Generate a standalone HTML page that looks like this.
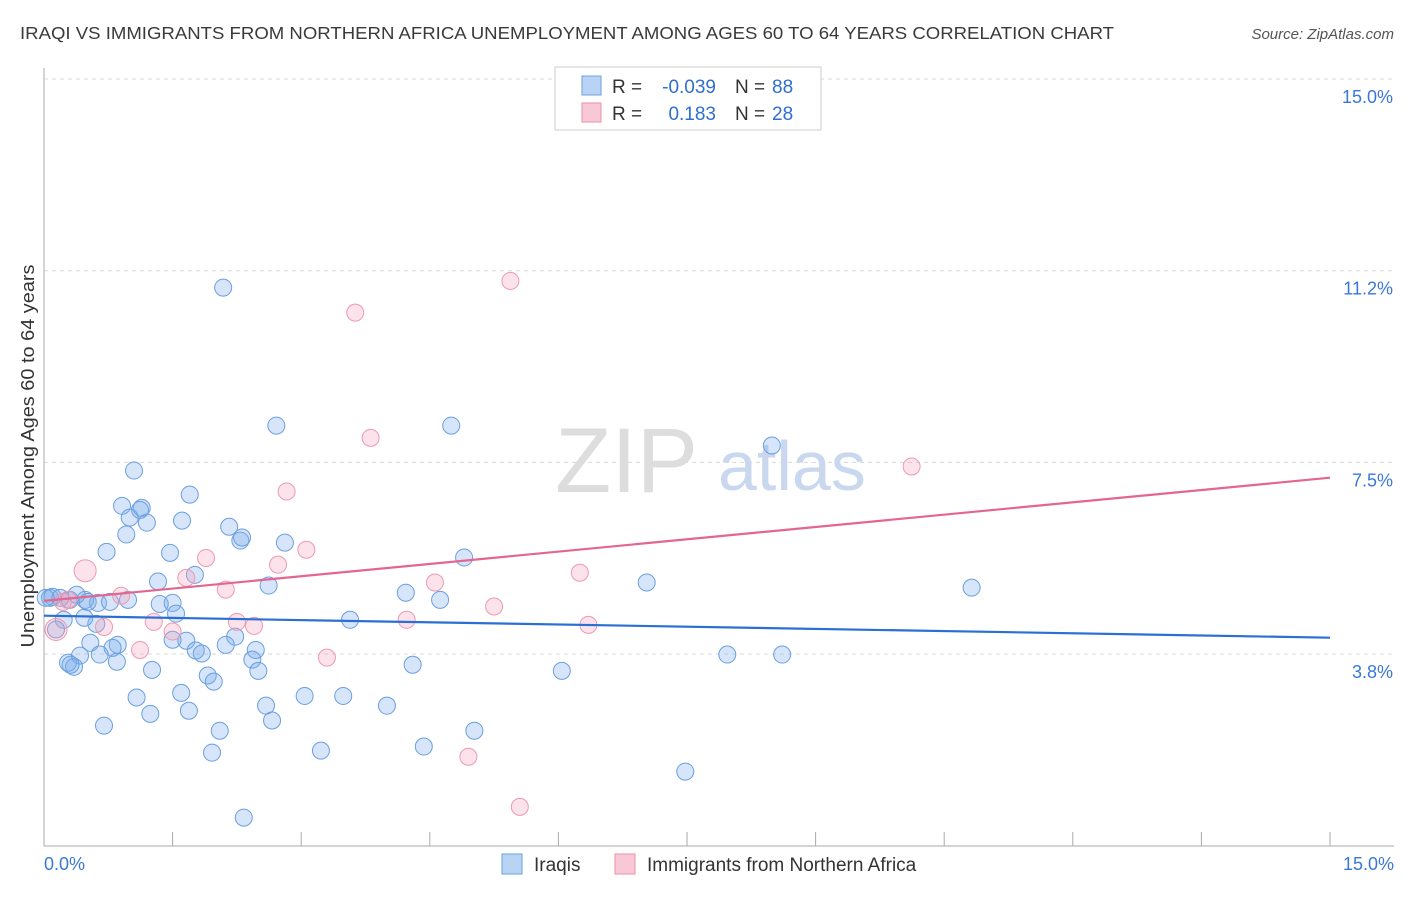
<!DOCTYPE html>
<html><head><meta charset="utf-8"><style>
body{margin:0;background:#fff;font-family:"Liberation Sans",sans-serif;}
svg text{font-family:"Liberation Sans",sans-serif;}
</style></head><body>
<svg id="chart" width="1406" height="892" xmlns="http://www.w3.org/2000/svg">
<text x="20" y="39" font-size="17.5" fill="#3a3a3a" textLength="1094" lengthAdjust="spacingAndGlyphs">IRAQI VS IMMIGRANTS FROM NORTHERN AFRICA UNEMPLOYMENT AMONG AGES 60 TO 64 YEARS CORRELATION CHART</text>
<text x="1394" y="39" font-size="15" fill="#555" text-anchor="end" font-style="italic">Source: ZipAtlas.com</text>
<g id="grid"></g>
<text x="555" y="492" font-size="92" fill="#ddd" font-family="Liberation Serif">ZIP</text>
<text x="718" y="490" font-size="70" fill="#c9d8ee">atlas</text>
<text transform="translate(34,456) rotate(-90)" font-size="18" fill="#333" text-anchor="middle" textLength="383" lengthAdjust="spacingAndGlyphs">Unemployment Among Ages 60 to 64 years</text>
<g id="points"></g>
<g id="lines"></g>
<g>
<rect x="555" y="67" width="266" height="63" fill="#fff" stroke="#ccc"/>
<rect x="582" y="76" width="19" height="19" fill="#b8d3f4" stroke="#6ea0e0"/>
<rect x="582" y="103" width="19" height="19" fill="#f8c8d6" stroke="#e890aa"/>
<text x="612" y="93" font-size="19" fill="#333">R =</text>
<text x="716" y="93" font-size="19" fill="#2f6fd0" text-anchor="end">-0.039</text>
<text x="735" y="93" font-size="19" fill="#333">N =</text>
<text x="772" y="93" font-size="19" fill="#2f6fd0">88</text>
<text x="612" y="120" font-size="19" fill="#333">R =</text>
<text x="716" y="120" font-size="19" fill="#2f6fd0" text-anchor="end">0.183</text>
<text x="735" y="120" font-size="19" fill="#333">N =</text>
<text x="772" y="120" font-size="19" fill="#2f6fd0">28</text>
</g>
<g>
<rect x="502" y="854" width="20" height="20" fill="#b8d3f4" stroke="#6ea0e0"/>
<text x="534" y="871" font-size="19" fill="#333">Iraqis</text>
<rect x="615" y="854" width="20" height="20" fill="#f8c8d6" stroke="#e890aa"/>
<text x="647" y="871" font-size="19" fill="#333">Immigrants from Northern Africa</text>
</g>
</svg>
<script>
const xTicks=[0,1.5,3,4.5,6,7.5,9,10.5,12,13.5,15];
const yTicks=[3.75,7.5,11.25,15];
const yTickLabels=["3.8%","7.5%","11.2%","15.0%"];
const blueX=[2.09,2.71,4.75,8.49,1.05,1.70,0.91,1.14,1.12,1.00,1.20,1.61,2.16,0.96,2.29,2.31,2.81,0.73,1.47,4.90,1.76,1.33,2.62,7.03,10.82,0.98,4.22,4.62,1.35,1.50,0.63,0.48,0.07,0.10,0.30,0.51,0.38,1.54,0.61,3.57,0.47,0.23,0.14,2.23,1.66,1.50,0.54,0.86,0.80,1.77,1.84,2.47,2.12,0.65,0.42,2.43,0.85,0.28,0.35,0.31,4.30,6.04,1.26,2.50,7.97,8.61,1.91,1.98,1.60,1.08,3.04,3.49,2.59,4.00,1.69,1.24,2.66,0.70,2.05,5.02,4.43,3.23,1.96,7.48,2.33,0.19,0.02,0.77];
const blueY=[10.92,8.22,8.22,7.83,7.34,6.87,6.65,6.61,6.57,6.42,6.32,6.36,6.24,6.09,5.97,6.03,5.93,5.75,5.73,5.64,5.30,5.17,5.09,5.15,5.05,4.81,4.95,4.81,4.73,4.75,4.75,4.81,4.85,4.87,4.81,4.77,4.91,4.54,4.34,4.42,4.46,4.42,4.23,4.09,4.01,4.03,3.97,3.93,3.87,3.82,3.76,3.83,3.93,3.74,3.72,3.64,3.60,3.58,3.50,3.54,3.54,3.42,3.44,3.42,3.74,3.74,3.33,3.21,2.99,2.90,2.93,2.93,2.74,2.74,2.64,2.58,2.45,2.35,2.25,2.25,1.94,1.86,1.82,1.45,0.55,4.85,4.85,4.77];
const pinkX=[5.44,3.63,3.81,10.12,2.83,3.06,1.89,2.73,0.48,1.66,4.56,6.25,2.12,0.90,0.28,0.22,5.25,4.23,1.28,2.25,2.45,6.35,0.70,1.50,0.14,1.12,3.30,4.95,5.55];
const pinkY=[11.05,10.43,7.98,7.42,6.93,5.79,5.63,5.50,5.38,5.24,5.15,5.34,5.01,4.89,4.81,4.77,4.68,4.42,4.38,4.38,4.30,4.32,4.28,4.19,4.23,3.83,3.68,1.74,0.76];
const blueTrend=[4.50,4.07];
const pinkTrend=[4.79,7.20];
const NS="http://www.w3.org/2000/svg";
const X0=44,X1=1330,Y0=845.7,PPY=51.11;
function sx(v){return X0+(v/15)*(X1-X0);}
function sy(v){return Y0-v*PPY;}
function mk(tag,attrs,parent){const e=document.createElementNS(NS,tag);for(const k in attrs)e.setAttribute(k,attrs[k]);parent.appendChild(e);return e;}
const grid=document.getElementById('grid');
yTicks.forEach((t,i)=>{
  const l=mk('line',{x1:44,x2:1394,y1:sy(t),y2:sy(t),stroke:'#d8d8d8','stroke-dasharray':'4,4'},grid);
  
  
  const tx=mk('text',{x:1393,y:sy(t)+24,'font-size':18,fill:'#3a78d8','text-anchor':'end'},grid);
  tx.textContent=yTickLabels[i];
  
  
});
const ax=mk('line',{x1:44,x2:44,y1:68,y2:846,stroke:'#aaa'},grid);


const bx=mk('line',{x1:44,x2:1394,y1:846,y2:846,stroke:'#aaa'},grid);


xTicks.forEach(t=>{
  const l=mk('line',{x1:sx(t),x2:sx(t),y1:832,y2:846,stroke:'#aaa'},grid);
  
  
});
const xl0=mk('text',{x:44,y:870,'font-size':18,fill:'#3a78d8'},grid);xl0.textContent='0.0%';


const xl1=mk('text',{x:1394,y:870,'font-size':18,fill:'#3a78d8','text-anchor':'end'},grid);xl1.textContent='15.0%';


const pts=document.getElementById('points');
blueX.forEach((x,i)=>{
  const c=mk('circle',{cx:sx(x),cy:sy(blueY[i]),r:8.5,fill:'rgba(120,170,235,0.3)',stroke:'#6a9fe0','stroke-width':1},pts);
  
  
});
pinkX.forEach((x,i)=>{
  const big=(i===8||i===24);
  const c=mk('circle',{cx:sx(x),cy:sy(pinkY[i]),r:big?11:8.5,fill:'rgba(245,160,185,0.3)',stroke:'#ec9ab2','stroke-width':1},pts);
  
  
});
const ln=document.getElementById('lines');
const b=mk('line',{x1:sx(0),x2:sx(15),y1:sy(blueTrend[0]),y2:sy(blueTrend[1]),stroke:'#2a6fd4','stroke-width':2.2},ln);


const p=mk('line',{x1:sx(0),x2:sx(15),y1:sy(pinkTrend[0]),y2:sy(pinkTrend[1]),stroke:'#e36690','stroke-width':2.2},ln);


</script>
</body></html>
